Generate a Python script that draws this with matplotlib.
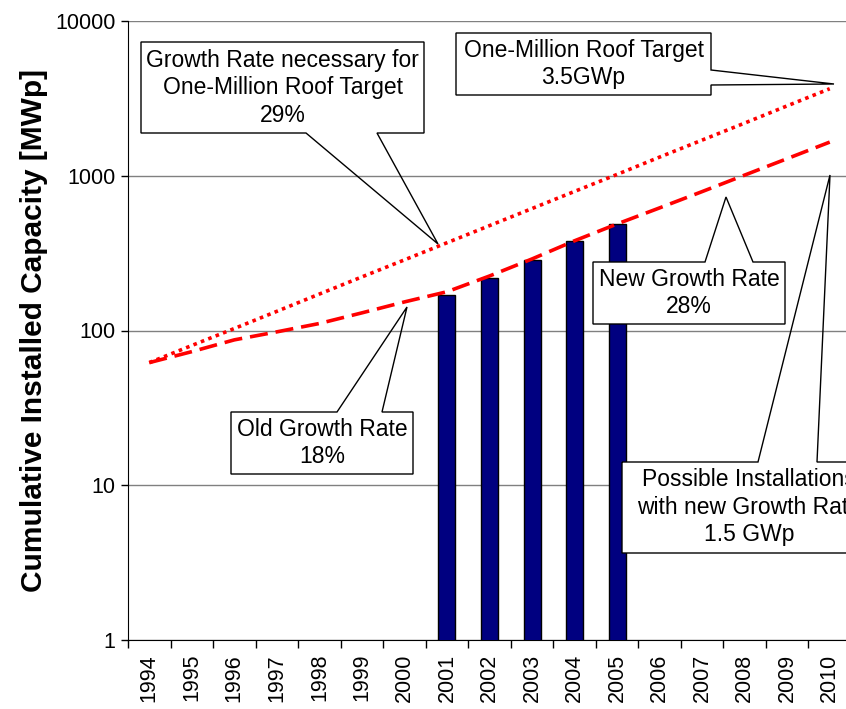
import numpy as np
import matplotlib
matplotlib.use("Agg")
import matplotlib.pyplot as plt
from matplotlib.patches import Polygon

plt.rcParams['font.family'] = ['Liberation Sans', 'DejaVu Sans']

# data
years = [str(y) for y in range(1994, 2011)]
installed = [None] * 7 + [170, 218, 285, 380, 488] + [None] * 5
target_29 = [62, 80, 103, 133, 172, 222, 286, 369, 476, 614, 792,
             1020, 1320, 1700, 2190, 2830, 3650]
growth_path = [62, 73, 87, 98, 111, 130, 153, 178, 225, 290, 380,
               488, 620, 790, 1010, 1290, 1650]

W, H = 846, 709
fig = plt.figure(figsize=(W / 100, H / 100), dpi=100)
ax = fig.add_axes([128 / W, 1 - 640 / H, (851 - 128) / W, (640 - 21) / H])

x = np.arange(len(years))
bar_x = [i for i, v in enumerate(installed) if v is not None]
bar_v = [v for v in installed if v is not None]
ax.bar(bar_x, bar_v, width=0.4, color='#000080', edgecolor='black',
       linewidth=1, zorder=3)
ax.plot(x, target_29, color='red', linestyle=(0, (1.0, 1.2)), linewidth=2.6,
        zorder=4)
ax.plot(x, growth_path, color='red', linestyle=(0, (5, 2.2)), linewidth=2.6,
        zorder=4)

ax.set_yscale('log')
ax.set_ylim(1, 10000)
ax.set_xlim(-0.5, len(years) - 0.5)
ax.set_yticks([1, 10, 100, 1000, 10000])
ax.set_yticklabels(['1', '10', '100', '1000', '10000'])
ax.yaxis.set_minor_locator(matplotlib.ticker.NullLocator())
ax.set_xticks(x)
ax.set_xticklabels(years, rotation=90)
ax.set_xticks(np.arange(-0.5, len(years)), minor=True)
ax.tick_params(axis='x', which='major', length=0, pad=10, labelsize=15.5)
ax.tick_params(axis='x', which='minor', length=6, width=1)
ax.tick_params(axis='y', length=5, width=1, labelsize=15.5, pad=4)
ax.grid(axis='y', which='major', color='#808080', linewidth=1, zorder=0)
ax.set_axisbelow(True)
for s in ['top', 'right']:
    ax.spines[s].set_visible(False)
ax.set_ylabel('Cumulative Installed Capacity [MWp]', fontsize=21.5,
              fontweight='bold', labelpad=5)


def px(pts):
    return [(a / W, 1 - b / H) for a, b in pts]


def callout(box, outline, text):
    x0, y0, x1, y1 = box
    fig.patches.append(Polygon(px([(x0, y0), (x1, y0), (x1, y1), (x0, y1)]),
                               closed=True, facecolor='white', edgecolor='none',
                               transform=fig.transFigure, zorder=5))
    fig.patches.append(Polygon(px(outline), closed=True, fill=False,
                               edgecolor='black', linewidth=1,
                               transform=fig.transFigure, zorder=6))
    fig.text((x0 + x1) / 2 / W, 1 - (y0 + y1) / 2 / H, text, ha='center',
             va='center', fontsize=16.5, linespacing=1.25, zorder=7)


callout((141, 42, 424, 133),
        [(141, 42), (424, 42), (424, 133), (377, 133), (438, 244),
         (306, 133), (141, 133)],
        'Growth Rate necessary for\nOne-Million Roof Target\n29%')
callout((456, 33, 711, 95),
        [(456, 33), (711, 33), (711, 70), (834, 84), (711, 85),
         (711, 95), (456, 95)],
        'One-Million Roof Target\n3.5GWp')
callout((593, 262, 785, 324),
        [(593, 262), (705, 262), (726, 197), (753, 262), (785, 262),
         (785, 324), (593, 324)],
        'New Growth Rate\n28%')
callout((231, 412, 413, 474),
        [(231, 412), (337, 412), (407, 307), (382, 412), (413, 412),
         (413, 474), (231, 474)],
        'Old Growth Rate\n18%')
callout((622, 462, 876, 553),
        [(622, 462), (758, 462), (830, 175), (817, 462), (876, 462),
         (876, 553), (622, 553)],
        'Possible Installations\nwith new Growth Rate\n1.5 GWp')

fig.savefig('out.png', dpi=100)
